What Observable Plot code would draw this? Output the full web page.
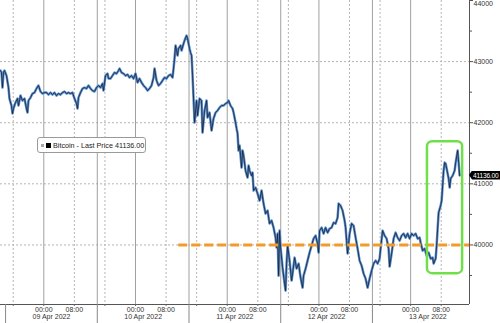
<!DOCTYPE html>
<html>
<head>
<meta charset="utf-8">
<script src="https://cdn.jsdelivr.net/npm/d3@7"></script>
<script src="https://cdn.jsdelivr.net/npm/@observablehq/plot@0.6"></script>
<style>
  html, body { margin: 0; padding: 0; background: #fff; }
  #wrap { position: relative; width: 500px; height: 323px; overflow: hidden; font-family: "Liberation Sans", Arial, sans-serif; }
  #legend { position: absolute; left: 37px; top: 137px; width: 109px; height: 16px; border: 1px solid #9a9a9a; border-radius: 3px; background: #fff; font-size: 7.2px; color: #222; display: flex; align-items: center; box-sizing: border-box; padding-left: 3px; white-space: nowrap; }
  #legend .g { width: 3px; height: 3px; background: #aaa; margin-right: 2px; }
  #legend .b { width: 5px; height: 5px; background: #000; margin-right: 2px; }
  #tag { position: absolute; left: 469px; height: 9px; width: 31px; background: #000; color: #fff; font-size: 6.6px; letter-spacing: -0.2px; line-height: 9px; padding-left: 4px; box-sizing: border-box; white-space: nowrap; clip-path: polygon(0 50%, 3px 0, 100% 0, 100% 100%, 3px 100%); }
</style>
</head>
<body>
<div id="wrap"></div>
<script>
// ---- data (hours after 09 Apr 2022 00:00, Bitcoin last price) ----
const hours = [-11.33,-11.07,-10.81,-10.55,-10.29,-9.76,-9.24,-8.98,-8.46,-8.19,-7.93,-7.41,-6.88,-6.62,-6.10,-5.58,-5.05,-4.53,-4.27,-4.01,-3.48,-2.96,-2.43,-1.91,-1.39,-0.86,-0.34,0.18,0.71,1.23,1.75,2.28,2.80,3.32,3.85,4.37,4.90,5.42,5.94,6.47,6.99,7.51,8.04,8.56,8.82,9.08,9.61,10.13,10.65,11.18,11.70,12.23,12.75,13.27,13.80,14.32,14.84,15.37,15.63,16.15,16.68,16.94,17.46,17.98,18.51,19.03,19.55,19.82,20.34,20.86,21.39,21.91,22.43,22.96,23.48,24.01,24.53,25.05,25.58,26.10,26.62,27.15,27.67,28.19,28.72,28.98,29.50,30.03,30.55,31.07,31.60,32.12,32.64,33.17,33.69,33.95,34.21,34.48,34.74,35.00,35.26,35.79,36.05,36.57,36.83,37.36,37.62,37.88,38.14,38.40,38.67,38.93,39.19,39.45,39.97,40.24,40.76,41.28,41.54,42.07,42.59,42.85,43.38,43.90,44.42,44.95,45.47,45.99,46.52,47.04,47.56,48.09,48.35,48.87,49.40,49.66,50.18,50.45,50.71,50.97,51.23,51.49,51.75,52.02,52.28,52.80,53.32,53.59,53.85,54.37,54.63,54.90,55.42,55.94,56.47,56.99,57.51,58.04,58.56,59.08,59.61,60.13,60.65,60.92,61.18,61.44,61.70,61.96,62.49,63.01,63.27,63.53,63.80,64.32,64.84,65.10,65.63,66.15,66.68,67.20,67.72,67.98,68.51,69.03,69.55,70.08,70.60,71.12,71.65,71.91,72.17,72.70,73.22,73.74,74.27,74.79,75.31,75.84,76.36,76.88,77.15,77.67,78.19,78.72,78.98,79.24,79.50,80.03,80.55,81.07,81.60,82.12,82.64,83.17,83.69,84.21,84.74,85.26,85.79,86.31,86.83,87.36,87.88,88.14,88.66,89.19,89.71,90.23,90.50,91.02,91.54,92.07,92.59,93.11,93.64,94.16,94.69,95.21,95.73,96.26,96.78,97.30,97.83,98.35,98.61,99.14,99.66,100.18,100.71,101.23,101.75,102.02,102.54,102.80,103.06,103.32,103.85,104.11,104.37,104.63,104.90,105.16,105.42,105.68,105.94,106.21,106.47,106.99,107.51,107.78,108.30,108.56,108.82];
const price = [42853,42821,42575,42821,42853,42771,42575,42395,42280,42149,42231,42329,42395,42280,42444,42362,42395,42231,42166,42362,42411,42477,42493,42559,42608,42510,42477,42493,42493,42460,42493,42460,42493,42444,42477,42460,42493,42510,42477,42493,42477,42493,42395,42313,42231,42411,42493,42559,42575,42559,42608,42559,42526,42510,42575,42608,42575,42640,42526,42771,42804,42722,42722,42771,42821,42804,42853,42886,42821,42804,42771,42788,42739,42771,42722,42804,42657,42722,42657,42608,42575,42526,42559,42608,42739,42886,42690,42608,42640,42690,42739,42722,42771,42788,42739,42886,43050,43263,43181,43099,43213,43263,43181,43295,43344,43426,43377,43295,43213,43148,43099,42771,42395,42002,42362,42117,42395,42362,41838,42198,42362,42084,42166,41871,42068,42166,42198,42248,42280,42280,42313,42329,42362,42280,42231,42166,42002,41904,41822,41544,41626,41462,41265,41544,41462,41216,41102,41298,41216,41134,41184,40889,40938,40840,40725,40889,40676,40512,40561,40349,40398,40283,40119,39956,40185,39497,40234,39956,39628,39366,39252,39694,39989,39743,39416,39530,39792,39612,39694,39465,39301,39497,39612,39743,39874,39989,40103,40152,40021,39874,40234,40283,40185,40283,40201,40267,40283,40365,40349,40447,40676,40643,40561,40398,40283,40070,39858,40185,40349,40316,40119,39939,39743,39661,39530,39448,39301,39448,39579,39694,39743,39694,39776,39939,40234,40152,40103,39939,39645,39858,40103,40201,40119,40070,40152,40185,40119,40185,40103,40185,40152,40185,40103,40119,40038,39907,39939,39825,39874,39776,39792,39694,39776,39989,40267,40529,40643,40725,40971,41216,41347,41331,41249,41167,41085,40938,41085,41134,41216,41347,41544,41347,41136];
const lastPrice = 41136.00;
const seriesName = "Bitcoin - Last Price";

// axes / annotations
const yTicks = [40000, 41000, 42000, 43000];
const yTopTick = 44000;
const yMinorTicks = [39500, 40500, 41500, 42500, 43500];
const yGrid = [40000, 41000, 42000, 43000];
const timeLabelHours = [0, 8, 24, 32, 48, 56, 72, 80, 96, 104];
const minorTickHours = [-8, 0, 8, 16, 24, 32, 40, 48, 56, 64, 72, 80, 88, 96, 104];
const dateLabelHours = [2, 26, 50, 74, 100.5];
const solidGridHours = [0, 24, 48, 72, 96];
const separatorHours = [14, 38, 62, 86];
const separatorAllHours = [-10, 14, 38, 62, 86];
const dottedGridHours = [-8, 8, 16, 32, 40, 56, 64, 80, 88, 104];
const xRangeHours = [-11.33, 111.4];
const yRange = [39025, 44000];
const refLevel = 40000;
const refStartHour = 35.3;
const boxHours = [100.4, 109.6];
const boxPrices = [39530, 41690];

const base = Date.UTC(2022, 3, 9);
const toDate = h => new Date(base + h * 3600e3);
const data = hours.map((h, i) => ({t: toDate(h), p: price[i]}));
const xMin = toDate(xRangeHours[0]), xMax = toDate(xRangeHours[1]);
const fmtTime = d3.utcFormat("%H:%M");
const fmtDate = d3.utcFormat("%d %b %Y");

const plot = Plot.plot({
  width: 500, height: 323,
  marginLeft: 0, marginRight: 31, marginTop: 0, marginBottom: 19,
  style: {fontFamily: "Liberation Sans, Arial, sans-serif", fontSize: "7px", color: "#333", background: "#fff", overflow: "hidden"},
  x: {type: "utc", domain: [xMin, xMax], axis: null},
  y: {domain: yRange, axis: null},
  marks: [
    Plot.ruleY(yGrid, {stroke: "#b5b5b5", strokeDasharray: "2,2"}),
    Plot.ruleX(dottedGridHours.map(toDate), {stroke: "#b5b5b5", strokeDasharray: "2,2"}),
    Plot.ruleX(solidGridHours.map(toDate), {stroke: "#a0a0a0"}),
    Plot.ruleX(separatorHours.map(toDate), {stroke: "#a0a0a0"}),
    Plot.line(data, {x: "t", y: "p", stroke: "#5a8fd0", strokeWidth: 2.5, strokeLinejoin: "round"}),
    Plot.line(data, {x: "t", y: "p", stroke: "#1a2436", strokeWidth: 1, strokeOpacity: 0.85}),
    Plot.ruleY([refLevel], {x1: toDate(refStartHour), x2: xMax, stroke: "#f39a2b", strokeWidth: 3, strokeDasharray: "9,4"}),
    Plot.rect([{}], {x1: toDate(boxHours[0]), x2: toDate(boxHours[1]), y1: boxPrices[0], y2: boxPrices[1], fill: "none", stroke: "#6fe04a", strokeWidth: 2.5, rx: 5}),
    Plot.ruleY([yRange[0]], {x1: xMin, x2: xMax, stroke: "#555"}),
    Plot.ruleX([xMax], {y1: yRange[0], y2: yRange[1], stroke: "#555"}),
    Plot.axisY({anchor: "right", ticks: yMinorTicks, tickSize: 2, tickFormat: () => "", stroke: "#555", label: null}),
    Plot.axisY({anchor: "right", ticks: [...yTicks, yTopTick], tickSize: 3, tickFormat: () => "", stroke: "#555", label: null}),
    Plot.text(yTicks, {x: xMax, y: d => d, dx: 4, text: d => String(d), textAnchor: "start", fontSize: 7, fill: "#333"}),
    Plot.text([yTopTick], {x: xMax, y: d => d, dx: 4, dy: 3.5, text: d => String(d), textAnchor: "start", fontSize: 7, fill: "#333"}),
    Plot.axisX({anchor: "bottom", ticks: minorTickHours.map(toDate), tickSize: 2, tickFormat: () => "", stroke: "#666", label: null}),
    Plot.axisX({anchor: "bottom", ticks: separatorAllHours.map(toDate), tickSize: 19, tickFormat: () => "", stroke: "#888", label: null}),
    Plot.text(timeLabelHours.map(toDate), {x: d => d, y: yRange[0], dy: 5.5, text: d => fmtTime(d), fontSize: 7, fill: "#333"}),
    Plot.text(dateLabelHours.map(toDate), {x: d => d, y: yRange[0], dy: 12.5, text: d => fmtDate(d), fontSize: 7, fill: "#333"})
  ]
});

const wrap = document.getElementById("wrap");
wrap.appendChild(plot);

const legend = document.createElement("div");
legend.id = "legend";
legend.innerHTML = `<span class="g"></span><span class="b"></span><span>${seriesName} ${lastPrice.toFixed(2)}</span>`;
wrap.appendChild(legend);

const tag = document.createElement("div");
tag.id = "tag";
tag.textContent = lastPrice.toFixed(2);
tag.style.top = (plot.scale("y").apply(lastPrice) - 4.5) + "px";
wrap.appendChild(tag);
</script>
</body>
</html>
